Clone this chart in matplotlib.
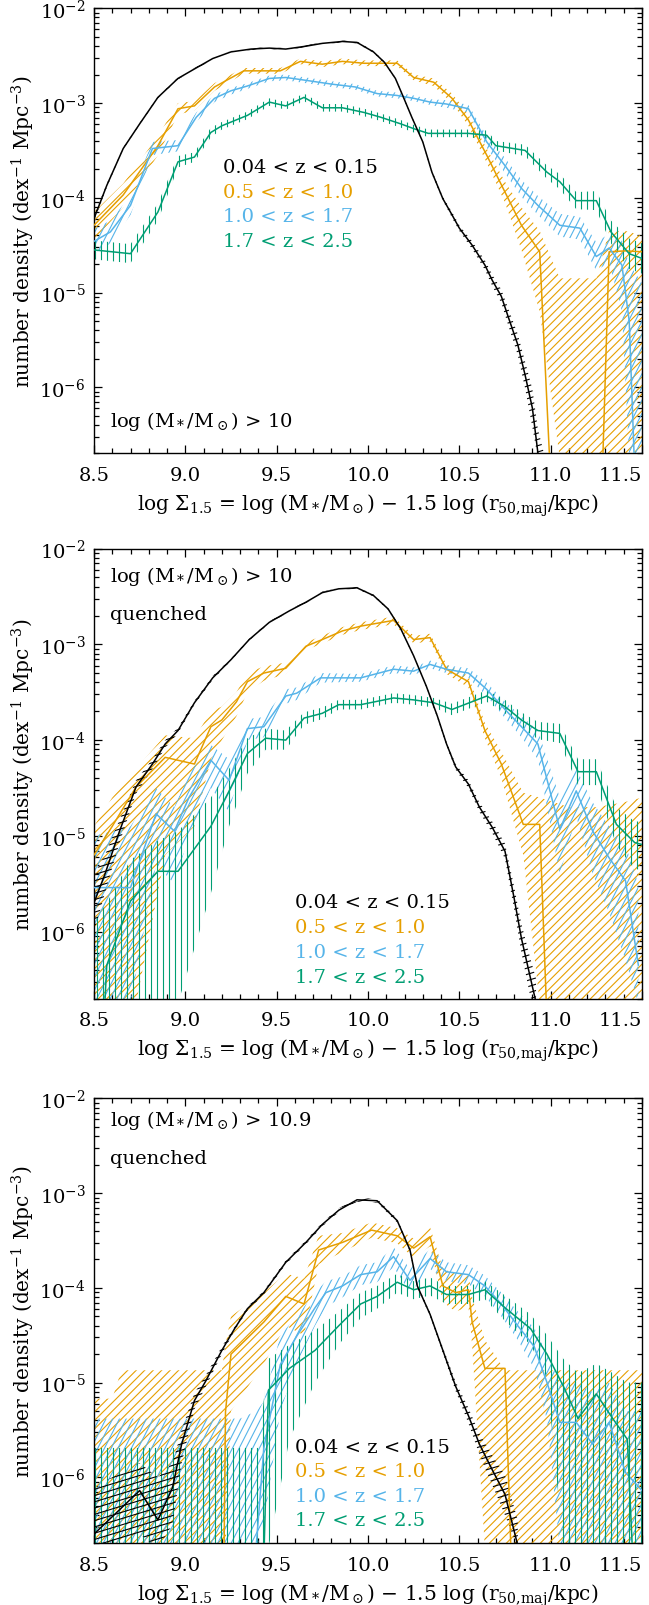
import numpy as np
import matplotlib
matplotlib.use("Agg")
import matplotlib.pyplot as plt
from matplotlib.collections import LineCollection
from matplotlib.path import Path
from matplotlib.transforms import IdentityTransform
from matplotlib.ticker import MultipleLocator, LogLocator, NullFormatter, FixedLocator

plt.rcParams['font.family'] = 'DejaVu Serif'
plt.rcParams['mathtext.fontset'] = 'dejavuserif'
plt.rcParams['font.size'] = 14

ORANGE = '#E69F00'
BLUE = '#56B4E9'
GREEN = '#009E73'
BLACK = 'black'

# --- data: log10 number density (dex^-1 Mpc^-3), band = lo..hi, -9 = off the bottom ---
# panel 1: log M > 10, all galaxies
p1_k_x = [8.50, 8.57, 8.66, 8.75, 8.85, 8.96, 9.05, 9.15, 9.25, 9.36, 9.46, 9.55, 9.66, 9.75, 9.86, 9.94, 10.03, 10.09, 10.15, 10.19, 10.24, 10.30, 10.35, 10.41, 10.46, 10.50, 10.57, 10.64, 10.68, 10.73, 10.77, 10.82, 10.86, 10.90, 10.93, 10.97]
p1_k_y = [-4.22, -3.87, -3.48, -3.22, -2.94, -2.74, -2.64, -2.53, -2.46, -2.43, -2.42, -2.43, -2.40, -2.37, -2.35, -2.36, -2.46, -2.57, -2.74, -2.92, -3.15, -3.41, -3.73, -4.01, -4.18, -4.32, -4.50, -4.71, -4.87, -5.04, -5.27, -5.55, -5.87, -6.22, -6.69, -7.20]
p1_k_lo = [-4.25, -3.89, -3.49, -3.23, -2.95, -2.75, -2.65, -2.54, -2.47, -2.44, -2.43, -2.44, -2.41, -2.38, -2.36, -2.37, -2.47, -2.58, -2.75, -2.93, -3.16, -3.42, -3.75, -4.03, -4.21, -4.35, -4.54, -4.76, -4.93, -5.11, -5.36, -5.66, -6.01, -6.42, -6.94, -7.50]
p1_k_hi = [-4.19, -3.85, -3.47, -3.21, -2.93, -2.73, -2.63, -2.52, -2.45, -2.42, -2.41, -2.42, -2.39, -2.36, -2.34, -2.35, -2.45, -2.56, -2.73, -2.91, -3.14, -3.40, -3.71, -3.99, -4.15, -4.29, -4.46, -4.66, -4.81, -4.97, -5.18, -5.44, -5.73, -6.02, -6.44, -6.90]

p1_o_x = [8.50, 8.66, 8.85, 8.96, 9.05, 9.16, 9.32, 9.52, 9.63, 9.75, 9.86, 9.98, 10.16, 10.25, 10.36, 10.46, 10.55, 10.65, 10.75, 10.84, 10.94, 11.05, 11.15, 11.25, 11.32, 11.41, 11.50]
p1_o_y = [-4.29, -3.97, -3.45, -3.06, -3.03, -2.83, -2.66, -2.66, -2.56, -2.59, -2.56, -2.58, -2.58, -2.73, -2.78, -2.95, -3.18, -3.55, -3.94, -4.29, -4.57, -9, -9, -9, -4.57, -4.56, -4.57]
p1_o_lo = [-4.45, -4.10, -3.55, -3.12, -3.08, -2.87, -2.69, -2.69, -2.59, -2.62, -2.59, -2.61, -2.61, -2.76, -2.82, -3.00, -3.24, -3.63, -4.05, -4.55, -5.20, -9, -9, -9, -9, -9, -9]
p1_o_hi = [-4.15, -3.85, -3.35, -3.00, -2.98, -2.79, -2.63, -2.63, -2.53, -2.56, -2.53, -2.55, -2.55, -2.70, -2.74, -2.90, -3.12, -3.48, -3.83, -4.10, -4.35, -4.85, -4.85, -4.85, -4.35, -4.35, -4.40]

p1_b_x = [8.50, 8.59, 8.70, 8.82, 8.96, 9.06, 9.16, 9.25, 9.34, 9.46, 9.55, 9.66, 9.80, 9.93, 10.05, 10.16, 10.25, 10.34, 10.43, 10.55, 10.65, 10.75, 10.84, 10.93, 11.05, 11.16, 11.25, 11.32, 11.39, 11.43, 11.50]
p1_b_y = [-4.46, -4.36, -4.08, -3.48, -3.45, -3.15, -2.95, -2.87, -2.82, -2.74, -2.73, -2.76, -2.80, -2.83, -2.90, -2.92, -2.95, -2.99, -3.01, -3.06, -3.41, -3.66, -3.90, -4.08, -4.29, -4.32, -4.62, -4.53, -4.71, -5.30, -9]
p1_b_lo = [-4.59, -4.48, -4.18, -3.55, -3.51, -3.20, -2.99, -2.91, -2.85, -2.77, -2.76, -2.79, -2.83, -2.86, -2.93, -2.95, -2.98, -3.02, -3.05, -3.10, -3.47, -3.74, -3.99, -4.18, -4.41, -4.44, -4.77, -4.68, -5.20, -9, -9]
p1_b_hi = [-4.33, -4.24, -3.98, -3.41, -3.39, -3.10, -2.91, -2.84, -2.79, -2.71, -2.70, -2.73, -2.77, -2.80, -2.87, -2.89, -2.92, -2.96, -2.97, -3.02, -3.35, -3.58, -3.81, -3.98, -4.17, -4.20, -4.47, -4.38, -4.45, -4.70, -4.90]

p1_g_x = [8.50, 8.70, 8.85, 8.96, 9.05, 9.14, 9.20, 9.34, 9.46, 9.55, 9.65, 9.75, 9.86, 9.98, 10.07, 10.18, 10.25, 10.33, 10.55, 10.65, 10.70, 10.86, 10.98, 11.05, 11.14, 11.25, 11.33, 11.43, 11.50]
p1_g_y = [-4.55, -4.59, -4.15, -3.62, -3.57, -3.31, -3.24, -3.13, -2.99, -3.03, -2.94, -3.05, -3.05, -3.10, -3.15, -3.22, -3.27, -3.32, -3.32, -3.34, -3.45, -3.50, -3.73, -3.83, -4.03, -4.03, -4.36, -4.59, -4.64]
p1_g_lo = [-4.65, -4.69, -4.24, -3.68, -3.62, -3.36, -3.28, -3.17, -3.03, -3.07, -2.98, -3.09, -3.09, -3.14, -3.19, -3.26, -3.31, -3.36, -3.36, -3.39, -3.50, -3.56, -3.80, -3.91, -4.12, -4.13, -4.48, -4.75, -4.80]
p1_g_hi = [-4.45, -4.49, -4.06, -3.56, -3.52, -3.26, -3.20, -3.09, -2.95, -2.99, -2.90, -3.01, -3.01, -3.06, -3.11, -3.18, -3.23, -3.28, -3.28, -3.29, -3.40, -3.44, -3.66, -3.75, -3.94, -3.93, -4.24, -4.43, -4.48]

# panel 2: log M > 10, quenched
p2_k_x = [8.50, 8.56, 8.64, 8.73, 8.82, 8.89, 8.96, 9.05, 9.15, 9.25, 9.35, 9.46, 9.57, 9.66, 9.75, 9.84, 9.94, 10.03, 10.11, 10.18, 10.25, 10.32, 10.38, 10.43, 10.48, 10.55, 10.61, 10.68, 10.75, 10.80, 10.84, 10.89, 10.92]
p2_k_y = [-5.70, -5.40, -4.95, -4.49, -4.25, -4.04, -3.90, -3.61, -3.35, -3.16, -2.95, -2.77, -2.65, -2.56, -2.46, -2.42, -2.41, -2.49, -2.63, -2.84, -3.12, -3.44, -3.75, -4.04, -4.28, -4.46, -4.70, -4.91, -5.16, -5.65, -6.07, -6.49, -6.74]
p2_k_lo = [-6.00, -5.60, -5.07, -4.56, -4.30, -4.08, -3.93, -3.63, -3.37, -3.17, -2.96, -2.78, -2.66, -2.57, -2.47, -2.43, -2.42, -2.50, -2.64, -2.85, -3.13, -3.45, -3.77, -4.06, -4.31, -4.50, -4.75, -4.97, -5.24, -5.77, -6.22, -6.69, -6.99]
p2_k_hi = [-5.40, -5.20, -4.83, -4.42, -4.20, -4.00, -3.87, -3.59, -3.33, -3.15, -2.94, -2.76, -2.64, -2.55, -2.45, -2.41, -2.40, -2.48, -2.62, -2.83, -3.11, -3.43, -3.73, -4.02, -4.25, -4.42, -4.65, -4.85, -5.08, -5.53, -5.92, -6.29, -6.49]

p2_o_x = [8.50, 8.60, 8.73, 8.89, 9.05, 9.14, 9.20, 9.28, 9.34, 9.43, 9.55, 9.66, 9.75, 9.86, 9.96, 10.14, 10.25, 10.34, 10.43, 10.55, 10.64, 10.73, 10.85, 10.94, 11.02, 11.10, 11.25, 11.40, 11.50]
p2_o_y = [-5.20, -4.90, -4.49, -4.18, -4.25, -3.86, -3.79, -3.60, -3.39, -3.30, -3.25, -3.02, -2.95, -2.86, -2.81, -2.75, -2.95, -2.93, -3.26, -3.39, -3.90, -4.25, -4.88, -4.88, -9, -9, -9, -9, -9]
p2_o_lo = [-9, -9, -9, -5.20, -4.90, -4.20, -4.00, -3.75, -3.50, -3.38, -3.31, -3.06, -2.99, -2.90, -2.85, -2.79, -2.99, -2.97, -3.31, -3.45, -3.98, -4.40, -5.20, -9, -9, -9, -9, -9, -9]
p2_o_hi = [-4.90, -4.60, -4.30, -3.95, -3.98, -3.70, -3.65, -3.50, -3.30, -3.23, -3.19, -2.98, -2.91, -2.82, -2.77, -2.71, -2.91, -2.89, -3.21, -3.33, -3.82, -4.12, -4.55, -4.60, -4.65, -4.70, -4.70, -4.65, -4.60]

p2_b_x = [8.50, 8.70, 8.84, 8.94, 9.02, 9.14, 9.24, 9.34, 9.43, 9.55, 9.61, 9.74, 9.96, 10.14, 10.25, 10.34, 10.43, 10.55, 10.65, 10.75, 10.84, 10.93, 11.05, 11.14, 11.23, 11.32, 11.41, 11.48]
p2_b_y = [-5.54, -5.54, -4.77, -4.95, -4.60, -4.21, -4.42, -3.88, -3.86, -3.54, -3.51, -3.35, -3.35, -3.26, -3.28, -3.21, -3.26, -3.30, -3.47, -3.68, -3.86, -4.04, -4.93, -4.53, -4.95, -5.23, -5.47, -6.35]
p2_b_lo = [-9, -9, -5.30, -5.50, -5.00, -4.50, -4.75, -4.00, -3.97, -3.62, -3.58, -3.40, -3.39, -3.30, -3.32, -3.25, -3.30, -3.35, -3.54, -3.77, -3.97, -4.20, -5.40, -4.80, -5.40, -5.80, -6.30, -9]
p2_b_hi = [-5.00, -4.90, -4.50, -4.70, -4.35, -4.05, -4.20, -3.78, -3.76, -3.47, -3.45, -3.30, -3.31, -3.22, -3.24, -3.17, -3.22, -3.25, -3.40, -3.60, -3.75, -3.90, -4.60, -4.30, -4.65, -4.90, -5.10, -5.50]

p2_g_x = [8.50, 8.57, 8.70, 8.85, 8.96, 9.14, 9.24, 9.34, 9.44, 9.55, 9.65, 9.75, 9.84, 9.96, 10.14, 10.25, 10.36, 10.46, 10.65, 10.75, 10.84, 10.93, 11.05, 11.15, 11.25, 11.36, 11.46, 11.50]
p2_g_y = [-9, -6.35, -5.68, -5.37, -5.37, -4.90, -4.53, -4.14, -3.98, -4.00, -3.77, -3.72, -3.63, -3.63, -3.56, -3.58, -3.61, -3.68, -3.54, -3.65, -3.79, -3.90, -3.93, -4.33, -4.33, -4.88, -5.07, -5.09]
p2_g_lo = [-9, -9, -9, -9, -9, -5.60, -4.90, -4.35, -4.10, -4.10, -3.84, -3.78, -3.68, -3.68, -3.61, -3.63, -3.66, -3.74, -3.60, -3.72, -3.87, -3.99, -4.03, -4.47, -4.47, -5.10, -5.35, -5.35]
p2_g_hi = [-5.90, -5.70, -5.25, -5.05, -4.95, -4.60, -4.30, -3.98, -3.88, -3.90, -3.71, -3.66, -3.58, -3.58, -3.51, -3.53, -3.56, -3.62, -3.48, -3.58, -3.71, -3.81, -3.83, -4.20, -4.20, -4.70, -4.85, -4.85]

# panel 3: log M > 10.9, quenched
p3_k_x = [8.50, 8.75, 8.85, 8.93, 8.98, 9.05, 9.11, 9.20, 9.27, 9.34, 9.43, 9.55, 9.66, 9.75, 9.84, 9.94, 10.05, 10.16, 10.23, 10.27, 10.34, 10.41, 10.48, 10.55, 10.61, 10.68, 10.75, 10.82]
p3_k_y = [-6.60, -6.14, -6.45, -6.11, -5.65, -5.19, -4.99, -4.66, -4.43, -4.22, -4.05, -3.73, -3.52, -3.33, -3.18, -3.07, -3.08, -3.29, -3.60, -3.98, -4.28, -4.66, -5.04, -5.35, -5.65, -5.92, -6.18, -6.72]
p3_k_lo = [-9, -6.60, -9, -6.50, -5.85, -5.28, -5.05, -4.70, -4.45, -4.24, -4.07, -3.75, -3.54, -3.35, -3.20, -3.09, -3.10, -3.31, -3.62, -4.00, -4.30, -4.69, -5.09, -5.43, -5.76, -6.08, -6.40, -7.00]
p3_k_hi = [-6.10, -5.85, -6.00, -5.85, -5.50, -5.11, -4.93, -4.62, -4.41, -4.20, -4.03, -3.71, -3.50, -3.31, -3.16, -3.05, -3.06, -3.27, -3.58, -3.96, -4.26, -4.63, -4.99, -5.27, -5.54, -5.77, -5.98, -6.45]

p3_o_x = [8.50, 8.60, 8.65, 8.80, 9.00, 9.20, 9.22, 9.25, 9.43, 9.55, 9.65, 9.73, 9.86, 10.02, 10.16, 10.25, 10.34, 10.41, 10.48, 10.55, 10.57, 10.64, 10.75, 10.82, 10.90, 11.00, 11.20, 11.40, 11.50]
p3_o_y = [-9, -9, -9, -9, -9, -9, -5.31, -4.70, -4.36, -4.09, -4.17, -3.60, -3.52, -3.39, -3.45, -3.58, -3.46, -3.98, -4.05, -4.02, -4.36, -4.85, -4.85, -9, -9, -9, -9, -9, -9]
p3_o_lo = [-9, -9, -9, -9, -9, -9, -9, -5.30, -4.80, -4.40, -4.50, -3.75, -3.62, -3.47, -3.53, -3.68, -3.56, -4.15, -4.25, -4.20, -4.60, -9, -9, -9, -9, -9, -9, -9, -9]
p3_o_hi = [-5.17, -5.17, -4.87, -4.87, -4.87, -4.87, -4.60, -4.30, -4.05, -3.85, -3.90, -3.45, -3.42, -3.31, -3.37, -3.48, -3.36, -3.80, -3.85, -3.85, -4.10, -4.55, -4.87, -4.87, -4.87, -4.87, -4.87, -4.87, -4.87]

p3_b_x = [8.50, 8.70, 9.00, 9.30, 9.39, 9.43, 9.52, 9.61, 9.71, 9.77, 9.86, 9.96, 10.05, 10.14, 10.23, 10.34, 10.43, 10.55, 10.64, 10.73, 10.82, 10.91, 10.98, 11.05, 11.14, 11.23, 11.32, 11.41, 11.50]
p3_b_y = [-9, -9, -9, -9, -6.68, -5.69, -4.81, -4.51, -4.21, -4.05, -3.98, -3.86, -3.83, -3.67, -3.92, -3.69, -3.83, -3.86, -3.98, -4.17, -4.40, -4.62, -5.00, -5.42, -5.42, -5.65, -5.42, -5.95, -6.14]
p3_b_lo = [-9, -9, -9, -9, -9, -6.50, -5.30, -4.80, -4.40, -4.20, -4.10, -3.97, -3.94, -3.78, -4.05, -3.80, -3.93, -3.96, -4.09, -4.30, -4.55, -4.85, -5.40, -9, -9, -9, -9, -9, -9]
p3_b_hi = [-5.38, -5.38, -5.38, -5.38, -5.30, -5.20, -4.50, -4.30, -4.05, -3.93, -3.88, -3.76, -3.73, -3.57, -3.80, -3.59, -3.73, -3.76, -3.87, -4.05, -4.25, -4.42, -4.70, -5.00, -5.00, -5.10, -5.00, -5.30, -5.30]

p3_g_x = [8.50, 9.00, 9.40, 9.455, 9.57, 9.71, 9.84, 9.96, 10.05, 10.16, 10.25, 10.34, 10.43, 10.55, 10.64, 10.75, 10.89, 10.98, 11.07, 11.15, 11.25, 11.34, 11.42, 11.50]
p3_g_y = [-9, -9, -9, -5.08, -4.85, -4.66, -4.40, -4.17, -4.09, -3.94, -4.02, -3.98, -4.07, -4.07, -4.02, -4.21, -4.43, -4.70, -5.04, -5.38, -5.12, -5.38, -5.60, -9]
p3_g_lo = [-9, -9, -9, -9, -5.60, -5.00, -4.60, -4.32, -4.22, -4.05, -4.12, -4.08, -4.17, -4.17, -4.12, -4.35, -4.60, -4.95, -9, -9, -9, -9, -9, -9]
p3_g_hi = [-5.69, -5.69, -5.69, -4.75, -4.60, -4.45, -4.25, -4.05, -3.98, -3.85, -3.93, -3.89, -3.98, -3.98, -3.93, -4.08, -4.28, -4.50, -4.75, -4.90, -4.80, -4.90, -5.00, -5.00]

z_labels = ['0.04 < z < 0.15', '0.5 < z < 1.0', '1.0 < z < 1.7', '1.7 < z < 2.5']
z_colors = [BLACK, ORANGE, BLUE, GREEN]
hatch_angle = {BLACK: 17, ORANGE: 45, BLUE: 63, GREEN: 90}

YMIN, YMAX = 2e-7, 1e-2


def hatch_band(ax, x, lo, hi, color):
    # IDL-style line fill: parallel lines clipped to the error band
    x = np.asarray(x)
    lo = np.clip(np.asarray(lo), -6.75, -1.95)
    hi = np.clip(np.asarray(hi), -6.75, -1.95)
    verts = np.vstack([np.column_stack([x, 10**lo]),
                       np.column_stack([x[::-1], 10**hi[::-1]])])
    verts = np.vstack([verts, verts[:1]])
    path = Path(verts, closed=True)

    fig = ax.figure
    W, H = fig.get_size_inches() * fig.dpi
    bb = ax.get_position()
    x0, x1, y0, y1 = bb.x0 * W, bb.x1 * W, bb.y0 * H, bb.y1 * H
    th = np.deg2rad(hatch_angle[color])
    d = np.array([np.cos(th), np.sin(th)])
    n = np.array([-np.sin(th), np.cos(th)])
    cx, cy = (x0 + x1) / 2, (y0 + y1) / 2
    R = np.hypot(x1 - x0, y1 - y0) / 2 + 10
    segs = []
    for o in np.arange(-R, R, 6.0):
        p = np.array([cx, cy]) + o * n
        segs.append([p - R * d, p + R * d])
    lc = LineCollection(segs, colors=color, linewidths=0.8, transform=IdentityTransform())
    ax.add_collection(lc, autolim=False)
    lc.set_clip_box(ax.bbox)
    lc.set_clip_path(path, ax.transData)


def draw_series(ax, x, y, lo, hi, color):
    hatch_band(ax, x, lo, hi, color)
    ax.plot(x, 10**np.asarray(y), color=color, lw=1.1, zorder=3)


def setup_axes(ax):
    ax.set_xlim(8.5, 11.5)
    ax.set_yscale('log')
    ax.set_ylim(YMIN, YMAX)
    ax.xaxis.set_major_locator(MultipleLocator(0.5))
    ax.xaxis.set_minor_locator(MultipleLocator(0.1))
    ax.set_xticks([8.5, 9.0, 9.5, 10.0, 10.5, 11.0, 11.5])
    ax.set_xticklabels(['8.5', '9.0', '9.5', '10.0', '10.5', '11.0', '11.5'])
    ax.get_xticklabels()[-1].set_ha('right')
    ax.yaxis.set_major_locator(FixedLocator([1e-6, 1e-5, 1e-4, 1e-3, 1e-2]))
    ax.set_yticklabels([r'$10^{-6}$', r'$10^{-5}$', r'$10^{-4}$', r'$10^{-3}$', r'$10^{-2}$'])
    ax.yaxis.set_minor_locator(LogLocator(base=10, subs=np.arange(2, 10), numticks=20))
    ax.yaxis.set_minor_formatter(NullFormatter())
    ax.tick_params(which='both', direction='in', top=True, right=True, width=0.9)
    ax.tick_params(which='major', length=6, labelsize=14)
    ax.tick_params(axis='x', which='major', pad=9)
    ax.tick_params(axis='y', which='major', pad=6)
    ax.tick_params(which='minor', length=3.3)
    for s in ax.spines.values():
        s.set_linewidth(1.0)
    ax.set_ylabel(r'number density (dex$^{-1}$ Mpc$^{-3}$)', fontsize=14.5)
    ax.yaxis.label.set_va('center')
    ax.yaxis.set_label_coords(-0.128, 0.5)
    ax.set_xlabel(r'log $\Sigma_{1.5}$ = log (M$_*$/M$_\odot$) $-$ 1.5 log (r$_{50{,}\mathrm{maj}}$/kpc)', fontsize=14.5)
    ax.xaxis.set_label_coords(0.5, -0.085)


def z_legend(ax, x0, y0):
    for i, (lab, c) in enumerate(zip(z_labels, z_colors)):
        ax.text(x0, y0 - i * 0.055, lab, color=c, transform=ax.transAxes,
                ha='left', va='center', fontsize=14)


fig = plt.figure(figsize=(6.49, 16.06), dpi=100)
ax1 = fig.add_axes([0.1448, 0.7170, 0.8444, 0.2772])
ax2 = fig.add_axes([0.1448, 0.3776, 0.8444, 0.2802])
ax3 = fig.add_axes([0.1448, 0.0383, 0.8444, 0.2771])

panels = [
    (ax1, [(p1_o_x, p1_o_y, p1_o_lo, p1_o_hi, ORANGE), (p1_b_x, p1_b_y, p1_b_lo, p1_b_hi, BLUE),
           (p1_g_x, p1_g_y, p1_g_lo, p1_g_hi, GREEN), (p1_k_x, p1_k_y, p1_k_lo, p1_k_hi, BLACK)]),
    (ax2, [(p2_o_x, p2_o_y, p2_o_lo, p2_o_hi, ORANGE), (p2_b_x, p2_b_y, p2_b_lo, p2_b_hi, BLUE),
           (p2_g_x, p2_g_y, p2_g_lo, p2_g_hi, GREEN), (p2_k_x, p2_k_y, p2_k_lo, p2_k_hi, BLACK)]),
    (ax3, [(p3_o_x, p3_o_y, p3_o_lo, p3_o_hi, ORANGE), (p3_b_x, p3_b_y, p3_b_lo, p3_b_hi, BLUE),
           (p3_g_x, p3_g_y, p3_g_lo, p3_g_hi, GREEN), (p3_k_x, p3_k_y, p3_k_lo, p3_k_hi, BLACK)]),
]

for ax, series in panels:
    setup_axes(ax)
    for x, y, lo, hi, c in series:
        draw_series(ax, x, y, lo, hi, c)

# annotations
ax1.text(0.03, 0.073, r'log (M$_*$/M$_\odot$) > 10', transform=ax1.transAxes, va='center', fontsize=14)
z_legend(ax1, 0.235, 0.643)

ax2.text(0.03, 0.94, r'log (M$_*$/M$_\odot$) > 10', transform=ax2.transAxes, va='center', fontsize=14)
ax2.text(0.03, 0.854, 'quenched', transform=ax2.transAxes, va='center', fontsize=14)
z_legend(ax2, 0.367, 0.214)

ax3.text(0.03, 0.952, r'log (M$_*$/M$_\odot$) > 10.9', transform=ax3.transAxes, va='center', fontsize=14)
ax3.text(0.03, 0.866, 'quenched', transform=ax3.transAxes, va='center', fontsize=14)
z_legend(ax3, 0.367, 0.217)

fig.savefig('out.png', dpi=100)
